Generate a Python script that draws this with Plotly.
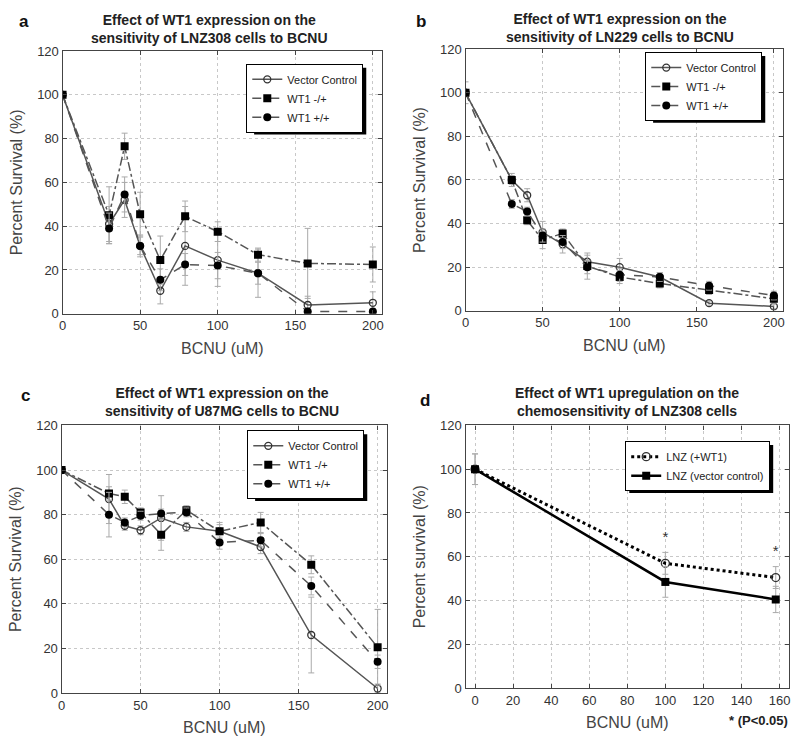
import plotly.graph_objects as go

# ---- data ----
dose = [0, 30, 40, 50, 63, 79, 100, 126, 158, 200]

lnz308_vc = [100, 41, 52, 31, 10.5, 31, 24.5, 18.5, 4, 5]
lnz308_vc_err = [0, 8, 8, 5, 6, 18, 12, 11, 4, 5]
lnz308_het = [100, 45, 76.5, 45.5, 24.5, 44.5, 37.5, 27, 23, 22.5]
lnz308_het_err = [0, 13, 6, 10, 11, 7, 4.5, 3, 16, 8]
lnz308_hom = [100, 39, 54.5, 31, 15.5, 22.5, 22, 18.5, 1, 1]
lnz308_hom_err = [0, 7, 8, 4, 5, 5, 6, 5, 1, 1]

ln229_vc = [100, 60, 53, 36, 30.5, 22.5, 20, 15.5, 3.5, 2]
ln229_vc_err = [5, 3, 3, 5, 4, 3, 4, 2, 1, 1]
ln229_het = [100, 60, 41.5, 32.5, 35.5, 20.5, 15.5, 12.5, 9.5, 5.5]
ln229_het_err = [0, 2, 2, 4, 2, 6, 3, 2, 2, 2]
ln229_hom = [100, 49, 45.5, 34.5, 31.5, 20, 16.5, 15.5, 11.5, 7]
ln229_hom_err = [0, 2, 2, 3, 3, 3, 3, 2, 2, 2]

u87_vc = [100, 87, 75, 73, 78.5, 74.5, 72.5, 65.5, 26, 2]
u87_vc_err = [0, 11, 2, 2, 10, 2, 4, 3, 17, 2]
u87_het = [100, 89.5, 88, 81, 71, 82, 72.5, 76.5, 57.5, 20.5]
u87_het_err = [0, 3, 3, 2, 7, 2, 3, 4.5, 4, 17]
u87_hom = [100, 80, 76.5, 79.5, 80.5, 81, 67.5, 68.5, 48, 14]
u87_hom_err = [0, 10, 2, 2, 2, 2, 3, 3, 4, 3]

dose_d = [0, 100, 158]
wt1_up = [100, 57, 50.5]
wt1_up_err = [7, 5, 5]
vec_ctrl = [100, 48.5, 40.5]
vec_ctrl_err = [7, 7, 6]
star_y = [68.6, 61.9]
star_x = [100, 158]

W, H = 800, 749
FONT = "Liberation Sans, Arial, sans-serif"
GREY = "#555555"
ERR = "#aaaaaa"


def dom(x0, x1, y0, y1):
    return [x0 / W, x1 / W], [1 - y1 / H, 1 - y0 / H]


fig = go.Figure()


def add_three(x, vc, vce, het, hete, hom, home, n, leg):
    ax = "" if n == 1 else str(n)
    common = dict(x=x, xaxis="x" + ax, yaxis="y" + ax, mode="lines+markers",
                  legend=leg)
    fig.add_trace(go.Scatter(
        y=vc, name="Vector Control",
        error_y=dict(type="data", array=vce, color=ERR, thickness=1, width=3),
        line=dict(color=GREY, width=1.5),
        marker=dict(symbol="circle-open", size=7, color="#333", line=dict(width=1.3)),
        **common))
    fig.add_trace(go.Scatter(
        y=het, name="WT1 -/+",
        error_y=dict(type="data", array=hete, color=ERR, thickness=1, width=3),
        line=dict(color=GREY, width=1.5, dash="dashdot"),
        marker=dict(symbol="square", size=8, color="black"),
        **common))
    fig.add_trace(go.Scatter(
        y=hom, name="WT1 +/+",
        error_y=dict(type="data", array=home, color=ERR, thickness=1, width=3),
        line=dict(color=GREY, width=1.5, dash="dash"),
        marker=dict(symbol="circle", size=8, color="black"),
        **common))


add_three(dose, lnz308_vc, lnz308_vc_err, lnz308_het, lnz308_het_err,
          lnz308_hom, lnz308_hom_err, 1, "legend")
add_three(dose, ln229_vc, ln229_vc_err, ln229_het, ln229_het_err,
          ln229_hom, ln229_hom_err, 2, "legend2")
add_three(dose, u87_vc, u87_vc_err, u87_het, u87_het_err,
          u87_hom, u87_hom_err, 3, "legend3")

fig.add_trace(go.Scatter(
    x=dose_d, y=wt1_up, name="LNZ (+WT1)", xaxis="x4", yaxis="y4",
    mode="lines+markers", legend="legend4",
    error_y=dict(type="data", array=wt1_up_err, color=ERR, thickness=1, width=3),
    line=dict(color="black", width=3, dash="dot"),
    marker=dict(symbol="circle-open", size=8, color="#333", line=dict(width=1.3))))
fig.add_trace(go.Scatter(
    x=dose_d, y=vec_ctrl, name="LNZ (vector control)", xaxis="x4", yaxis="y4",
    mode="lines+markers", legend="legend4",
    error_y=dict(type="data", array=vec_ctrl_err, color=ERR, thickness=1, width=3),
    line=dict(color="black", width=2.5),
    marker=dict(symbol="square", size=8, color="black")))
fig.add_trace(go.Scatter(
    x=star_x, y=star_y, xaxis="x4", yaxis="y4", mode="text", text=["*", "*"],
    textfont=dict(size=15, color="#333", family=FONT), showlegend=False,
    hoverinfo="skip"))

axis_common = dict(showline=True, mirror="allticks", linecolor="#444", linewidth=1.2,
                   ticks="inside", ticklen=4, tickcolor="#444",
                   showgrid=True, gridcolor="#c8c8c8", griddash="dot", gridwidth=1,
                   zeroline=False, tickfont=dict(family=FONT, size=13, color="#333"))
title_font = dict(family=FONT, size=16, color="#444")

frames = [(59, 381, 45, 313), (465, 785, 43, 310), (58, 386, 427, 700), (465, 791, 427, 695)]
layout = dict(width=W, height=H, margin=dict(l=0, r=0, t=0, b=0),
              paper_bgcolor="white", plot_bgcolor="white", font=dict(family=FONT))
for i, fr in enumerate(frames, start=1):
    xd, yd = dom(*fr)
    ax = "" if i == 1 else str(i)
    if i == 4:
        xr, tv = [-5, 165], list(range(0, 161, 20))
    else:
        xr, tv = [0, 206], list(range(0, 201, 50))
    layout["xaxis" + ax] = dict(domain=xd, range=xr, tickvals=tv, anchor="y" + ax,
                                title=dict(text="BCNU (uM)", font=title_font, standoff=10),
                                **axis_common)
    ytitle = "Percent survival (%)" if i == 4 else "Percent Survival (%)"
    layout["yaxis" + ax] = dict(domain=yd, range=[0, 120], tickvals=list(range(0, 121, 20)),
                                anchor="x" + ax,
                                title=dict(text=ytitle, font=title_font, standoff=10),
                                **axis_common)

leg_common = dict(bgcolor="white", bordercolor="black", borderwidth=1,
                  font=dict(family=FONT, size=11, color="#222"),
                  xanchor="right", yanchor="top", tracegroupgap=0)
# legend box: right, top, estimated width, estimated height (for drop shadow)
legpos = {"legend": (362, 58, 114, 69), "legend2": (764, 46, 114, 69),
          "legend3": (363, 432, 114, 69), "legend4": (772, 443, 146, 50)}
shapes = []
for k, (lx, ly, lw, lh) in legpos.items():
    layout[k] = dict(x=lx / W, y=1 - ly / H, **leg_common)
    shapes.append(dict(type="rect", xref="paper", yref="paper",
                       x0=(lx - lw + 4) / W, x1=(lx + 3) / W,
                       y0=1 - (ly + lh + 3) / H, y1=1 - (ly + 4) / H,
                       fillcolor="black", line=dict(width=0), layer="above"))
layout["shapes"] = shapes
fig.update_layout(**layout)

# panel titles and letters
titles = [
    (207, 22, "Effect of WT1 expression on the<br>sensitivity of LNZ308 cells to BCNU", 20, 15, "a"),
    (621, 21, "Effect of WT1 expression on the<br>sensitivity of LN229 cells to BCNU", 420, 15, "b"),
    (220, 403, "Effect of WT1 expression on the<br>sensitivity of U87MG cells to BCNU", 22, 396, "c"),
    (628, 403, "Effect of WT1 upregulation on the<br>chemosensitivity of LNZ308 cells", 424, 402, "d"),
]
for tx, ty, txt, lx, ly, letter in titles:
    fig.add_annotation(x=tx / W, y=1 - ty / H, xref="paper", yref="paper", text="<b>" + txt + "</b>",
                       showarrow=False, font=dict(family=FONT, size=14, color="#222"),
                       xanchor="center", yanchor="middle")
    fig.add_annotation(x=lx / W, y=1 - ly / H, xref="paper", yref="paper", text="<b>" + letter + "</b>",
                       showarrow=False, font=dict(family=FONT, size=17, color="#111"),
                       xanchor="center", yanchor="middle")
fig.add_annotation(x=760 / W, y=1 - 728 / H, xref="paper", yref="paper", text="<b>* (P<0.05)</b>",
                   showarrow=False, font=dict(family=FONT, size=13, color="#222"),
                   xanchor="center", yanchor="middle")

js = "document.body.style.margin = '0'; document.body.style.overflow = 'hidden';"
fig.write_html("out.html", post_script=[js], config={"displayModeBar": False})
